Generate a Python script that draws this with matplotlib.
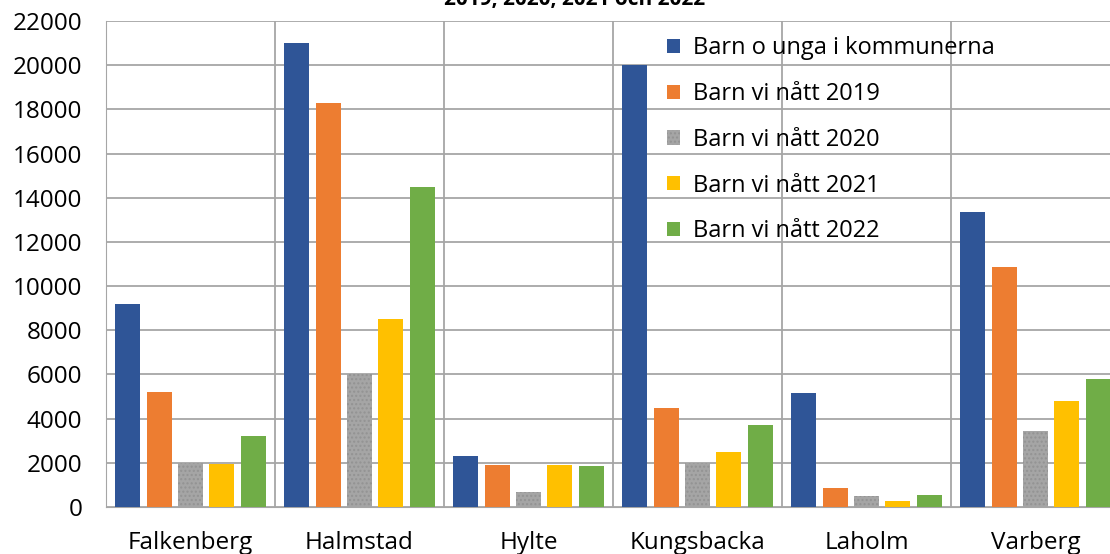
import matplotlib.pyplot as plt
import numpy as np

kommuner = ["Falkenberg", "Halmstad", "Hylte", "Kungsbacka", "Laholm", "Varberg"]
series_names = [
    "Barn o unga i kommunerna",
    "Barn vi nått 2019",
    "Barn vi nått 2020",
    "Barn vi nått 2021",
    "Barn vi nått 2022",
]
barn_unga = [9200, 21000, 2300, 20000, 5150, 13350]
natt_2019 = [5200, 18300, 1900, 4470, 850, 10850]
natt_2020 = [2000, 6000, 700, 2000, 500, 3450]
natt_2021 = [1950, 8500, 1900, 2480, 270, 4780]
natt_2022 = [3200, 14500, 1850, 3700, 540, 5800]
colors = ["#2F5597", "#ED7D31", "#A5A5A5", "#FFC000", "#70AD47"]

plt.rcParams["font.family"] = ["Open Sans", "DejaVu Sans"]

fig = plt.figure(figsize=(11.1, 5.54), dpi=100)
ax = fig.add_axes([106 / 1110, 47 / 554, 1014 / 1110, 486 / 554])

x = np.arange(len(kommuner))
pitch = 0.186
width = 0.148
all_vals = [barn_unga, natt_2019, natt_2020, natt_2021, natt_2022]
for i, (vals, name, c) in enumerate(zip(all_vals, series_names, colors)):
    offs = (i - 2) * pitch
    if i == 2:
        ax.bar(x + offs, vals, width, color=c, label=name, hatch="....",
               edgecolor="#939393", linewidth=0, zorder=3)
    else:
        ax.bar(x + offs, vals, width, color=c, label=name, zorder=3)

ax.set_xlim(-0.5, len(kommuner) - 0.5)
ax.set_ylim(0, 22000)
ax.set_yticks(np.arange(0, 22001, 2000))
ax.set_xticks(x)
ax.set_xticklabels(kommuner, fontsize=17.5)
ax.tick_params(axis="y", labelsize=17.5, length=0, pad=17)
ax.tick_params(axis="x", length=0, pad=17)

ax.set_xticks(np.arange(-0.5, len(kommuner), 1), minor=True)
ax.tick_params(axis="x", which="minor", length=0)
ax.grid(axis="y", color="#a6a6a6", linewidth=1.3, zorder=0)
ax.grid(axis="x", which="minor", color="#a6a6a6", linewidth=1.3, zorder=0)
ax.grid(axis="x", which="major", visible=False)
for s in ax.spines.values():
    s.set_visible(False)
ax.spines["left"].set_visible(True)
ax.spines["left"].set_color("#a6a6a6")
ax.spines["bottom"].set_visible(True)
ax.spines["bottom"].set_color("#a6a6a6")
ax.set_axisbelow(True)

leg = ax.legend(loc="upper left", bbox_to_anchor=(540 / 1014, 1.012), frameon=False,
                fontsize=17, labelspacing=0.92, handlelength=0.55, handleheight=0.55,
                handletextpad=0.55)

fig.text(575 / 1110, 1.0, "2019, 2020, 2021 och 2022", ha="center", va="center",
         fontsize=15, fontweight="bold")

fig.savefig("out.png", dpi=100)
plt.close()
